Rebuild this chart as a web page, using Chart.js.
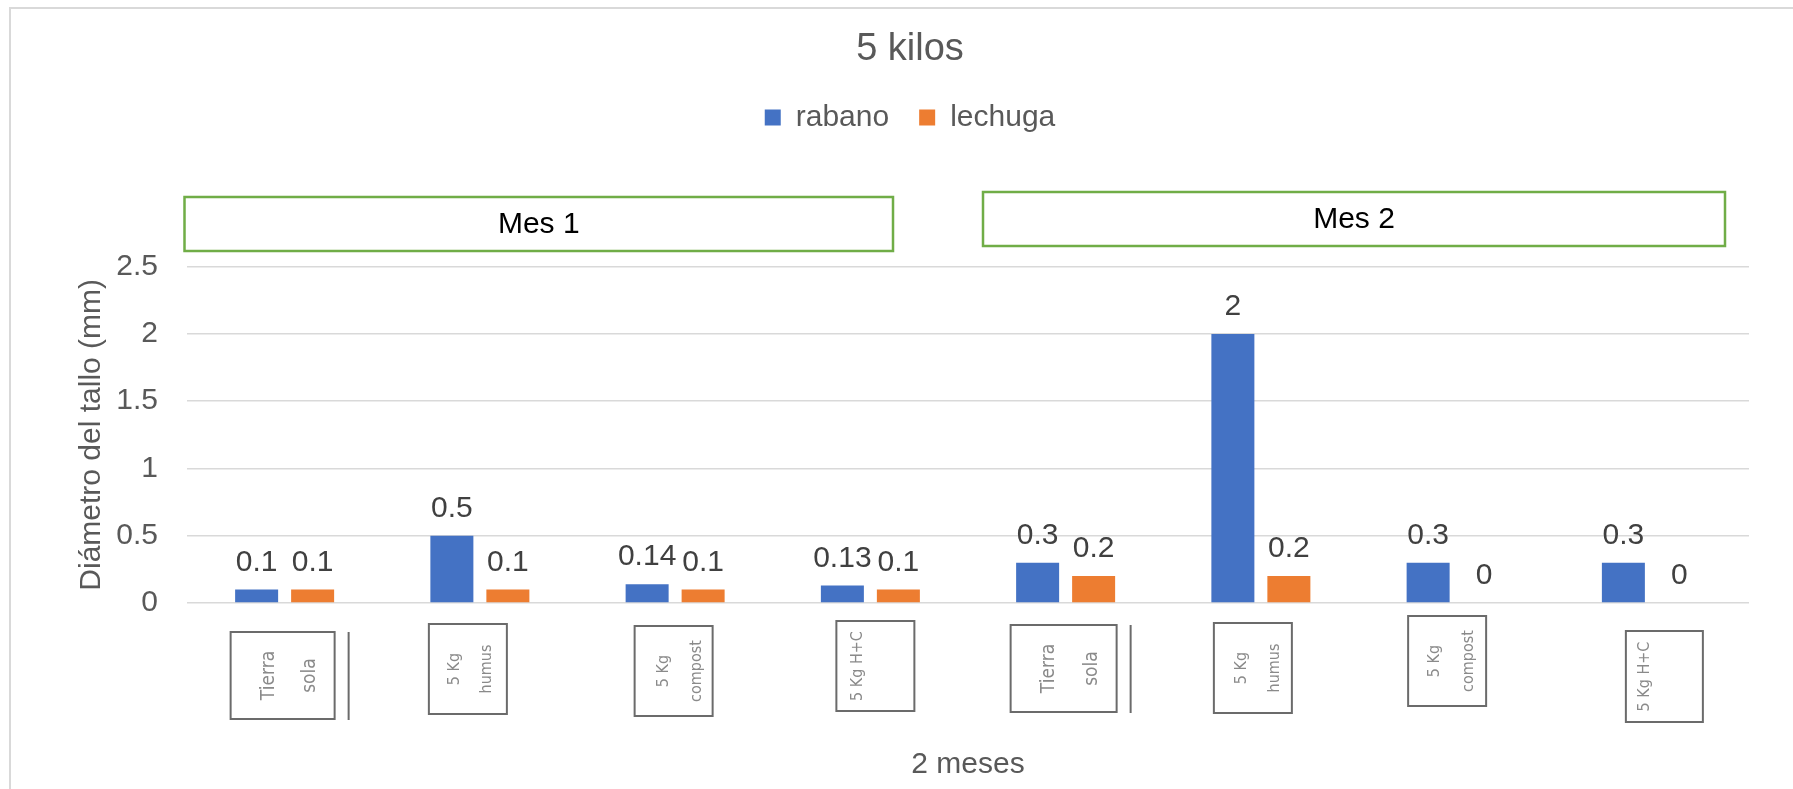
<!DOCTYPE html>
<html>
<head>
<meta charset="utf-8">
<script src="https://cdn.jsdelivr.net/npm/chart.js@4.4.1/dist/chart.umd.min.js"></script>
<style>
  html, body { margin: 0; padding: 0; background: #ffffff; }
  #c { display: block; }
</style>
</head>
<body>
<canvas id="c" width="1793" height="789"></canvas>
<script>
// Category labels (each label is split into the lines shown in its box)
const categories = [
  ['Tierra', 'sola'], ['5 Kg', 'humus'], ['5 Kg', 'compost'], ['5 Kg H+C'],
  ['Tierra', 'sola'], ['5 Kg', 'humus'], ['5 Kg', 'compost'], ['5 Kg H+C']
];
// Stem diameter (mm) per treatment
const rabano  = [0.1, 0.5, 0.14, 0.13, 0.3, 2, 0.3, 0.3];
const lechuga = [0.1, 0.1, 0.1, 0.1, 0.2, 0.2, 0, 0];
const yTicks  = [0, 0.5, 1, 1.5, 2, 2.5];
const months  = ['Mes 1', 'Mes 2'];

const FONT = '"Liberation Sans", Arial, Helvetica, sans-serif';
const NARROW = '"Liberation Sans Narrow", "DejaVu Sans Condensed", "Roboto Condensed", "Liberation Sans", sans-serif';
Chart.defaults.font.family = FONT;

// Light frame around the chart area of the sheet
const framePlugin = {
  id: 'frame',
  beforeDraw(chart) {
    const ctx = chart.ctx;
    ctx.save();
    ctx.fillStyle = '#ffffff';
    ctx.fillRect(0, 0, chart.width, chart.height);
    ctx.strokeStyle = '#d9d9d9';
    ctx.lineWidth = 2;
    ctx.beginPath();
    ctx.moveTo(10, chart.height);
    ctx.lineTo(10, 8);
    ctx.lineTo(chart.width, 8);
    ctx.stroke();
    ctx.restore();
  }
};

// Keeps a gap between the legend and the plot for the month banners
const legendGapPlugin = {
  id: 'legendGap',
  beforeUpdate(chart) {
    const lg = chart.legend;
    if (lg && !lg._gapAdded) {
      const fit = lg.fit;
      lg.fit = function () { fit.call(this); this.height += 124; };
      lg._gapAdded = true;
    }
  }
};

// Green month banners above the plot
const monthBoxes = [
  { x: 184.5, y: 197, w: 708.5, h: 54 },
  { x: 983,   y: 192, w: 742,   h: 54 }
];
const monthPlugin = {
  id: 'months',
  afterDraw(chart) {
    const ctx = chart.ctx;
    ctx.save();
    ctx.strokeStyle = '#70ad47';
    ctx.lineWidth = 2.5;
    ctx.font = '30px ' + FONT;
    ctx.fillStyle = '#000000';
    ctx.textAlign = 'center';
    ctx.textBaseline = 'middle';
    monthBoxes.forEach((b, i) => {
      ctx.strokeRect(b.x, b.y, b.w, b.h);
      ctx.fillText(months[i], b.x + b.w / 2, b.y + b.h / 2 + 1);
    });
    ctx.restore();
  }
};

// Framed, vertically written category labels under each group of bars
const labelBoxes = [
  { dx: -2,   dy: 29, w: 104, h: 87, cols: [-14, 27], size: 19, rule: true },
  { dx: -12,  dy: 21, w: 78,  h: 90, cols: [-13, 19], size: 16 },
  { dx: -1.5, dy: 23, w: 78,  h: 90, cols: [-10, 23], size: 16 },
  { dx: 5,    dy: 18, w: 78,  h: 90, cols: [-18],     size: 16 },
  { dx: -2,   dy: 22, w: 106, h: 87, cols: [-15, 28], size: 19, rule: true },
  { dx: -8,   dy: 20, w: 78,  h: 90, cols: [-11, 22], size: 16 },
  { dx: -9,   dy: 13, w: 78,  h: 90, cols: [-12, 22], size: 16 },
  { dx: 13,   dy: 28, w: 77,  h: 91, cols: [-20],     size: 16 }
];
const categoryPlugin = {
  id: 'categoryBoxes',
  afterDraw(chart) {
    const ctx = chart.ctx;
    const xs = chart.scales.x;
    const base = chart.chartArea.bottom;
    ctx.save();
    categories.forEach((lines, i) => {
      const L = labelBoxes[i];
      const cx = xs.getPixelForValue(i) + L.dx;
      const top = base + L.dy;
      const left = cx - L.w / 2;
      ctx.strokeStyle = '#6b6b6b';
      ctx.lineWidth = 2;
      ctx.strokeRect(left, top, L.w, L.h);
      if (L.rule) {
        ctx.beginPath();
        ctx.moveTo(left + L.w + 14, top);
        ctx.lineTo(left + L.w + 14, top + L.h + 1);
        ctx.stroke();
      }
      ctx.fillStyle = '#8a8a8a';
      ctx.font = L.size + 'px ' + NARROW;
      ctx.textAlign = 'center';
      ctx.textBaseline = 'middle';
      lines.forEach((t, k) => {
        ctx.save();
        ctx.translate(cx + L.cols[k], top + L.h / 2);
        ctx.rotate(-Math.PI / 2);
        ctx.fillText(t, 0, 0);
        ctx.restore();
      });
    });
    ctx.restore();
  }
};

// Value printed above each bar
const valuePlugin = {
  id: 'values',
  afterDatasetsDraw(chart) {
    const ctx = chart.ctx;
    ctx.save();
    ctx.font = '30px ' + FONT;
    ctx.fillStyle = '#404040';
    ctx.textAlign = 'center';
    ctx.textBaseline = 'alphabetic';
    chart.data.datasets.forEach((ds, i) => {
      chart.getDatasetMeta(i).data.forEach((el, j) => {
        ctx.fillText(String(ds.data[j]), el.x, el.y - 19);
      });
    });
    ctx.restore();
  }
};

new Chart(document.getElementById('c'), {
  type: 'bar',
  data: {
    labels: categories.map(l => l.join(' ')),
    datasets: [
      { label: 'rabano',  data: rabano,  backgroundColor: '#4472c4',
        categoryPercentage: 0.5736, barPercentage: 0.768 },
      { label: 'lechuga', data: lechuga, backgroundColor: '#ed7d31',
        categoryPercentage: 0.5736, barPercentage: 0.768 }
    ]
  },
  options: {
    responsive: false,
    animation: false,
    devicePixelRatio: 1,
    layout: { padding: { left: 71, right: 44, top: 0, bottom: 0 } },
    plugins: {
      title: {
        display: true,
        text: '5 kilos',
        color: '#595959',
        font: { size: 38, weight: 'normal' },
        padding: { top: 27, bottom: 0 }
      },
      legend: {
        display: true,
        labels: {
          color: '#595959',
          font: { size: 30 },
          boxWidth: 16,
          boxHeight: 16,
          padding: 30
        }
      },
      tooltip: { enabled: false }
    },
    scales: {
      x: {
        grid: { display: false },
        border: { display: false },
        ticks: { display: false },
        title: {
          display: true,
          text: '2 meses',
          color: '#595959',
          font: { size: 30 },
          padding: { top: 0, bottom: 6 }
        },
        afterFit(s) { s.height = 186; }
      },
      y: {
        min: 0,
        max: 2.5,
        afterBuildTicks(s) { s.ticks = yTicks.map(v => ({ value: v })); },
        ticks: {
          color: '#595959',
          font: { size: 30 },
          padding: 29,
          callback: v => String(v)
        },
        grid: { color: '#d9d9d9', lineWidth: 1.5, drawTicks: false },
        border: { display: false },
        title: {
          display: true,
          text: 'Diámetro del tallo (mm)',
          color: '#595959',
          font: { size: 30 },
          padding: { top: 3, bottom: 0 }
        },
        afterFit(s) { s.width = 116; }
      }
    }
  },
  plugins: [framePlugin, legendGapPlugin, monthPlugin, categoryPlugin, valuePlugin]
});
</script>
</body>
</html>
